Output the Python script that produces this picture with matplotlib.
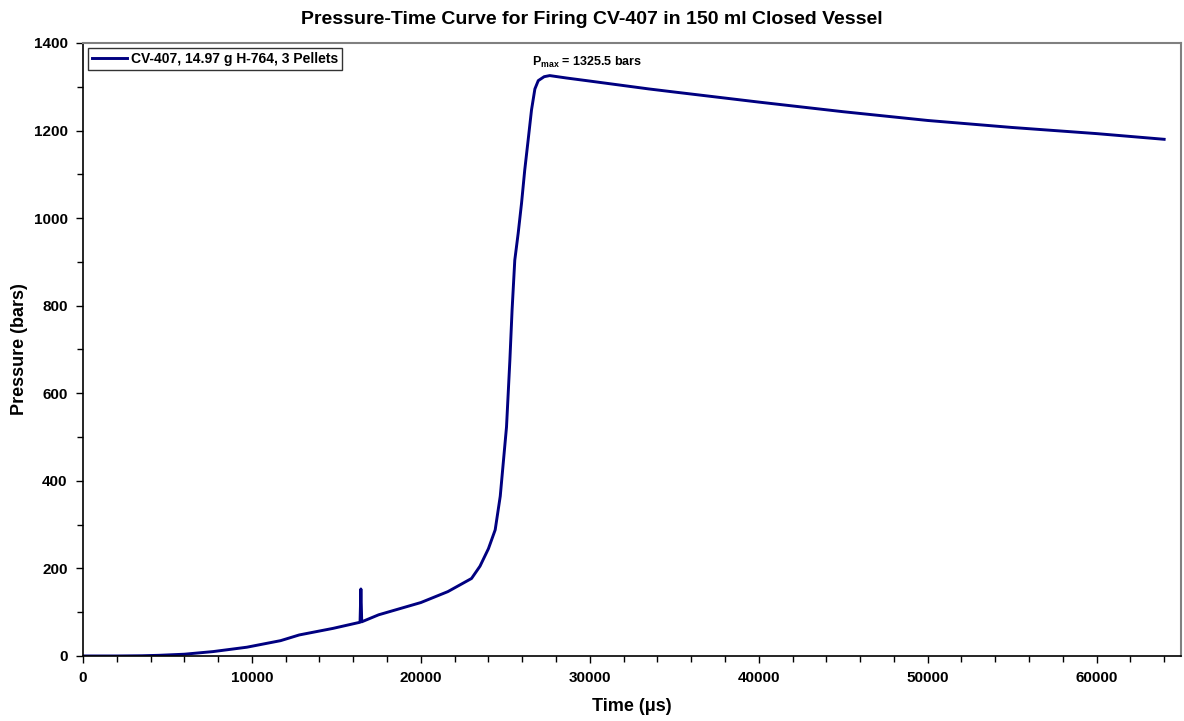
import matplotlib
matplotlib.use('Agg')
import matplotlib.pyplot as plt
from matplotlib.ticker import MultipleLocator

plt.rcParams['font.family'] = ['Liberation Sans', 'DejaVu Sans']
plt.rcParams['font.weight'] = 'bold'
plt.rcParams['mathtext.fontset'] = 'custom'
plt.rcParams['mathtext.rm'] = 'Liberation Sans:bold'
plt.rcParams['mathtext.bf'] = 'Liberation Sans:bold'

# time (us) and pressure (bars)
time_us = [0, 2000, 3500, 4500, 6000, 7700, 9700, 11700, 12800, 14800,
           16400, 16450, 16500, 17500, 20000, 21600, 23000, 23500, 24000,
           24400, 24700, 25070, 25270, 25400, 25560, 25760, 25960, 26150,
           26350, 26550, 26750, 26950, 27300, 27630, 28620, 30000, 33500,
           35000, 40000, 45000, 50000, 55000, 60000, 64000]
pressure = [0, 0, 0.5, 1.5, 4, 10, 20, 35, 48, 63,
            77, 153, 78, 94, 122, 147, 177, 205, 245,
            288, 365, 523, 676, 790, 904, 965, 1034, 1110,
            1178, 1247, 1295, 1314, 1323, 1325.5, 1320, 1313, 1295,
            1288, 1265, 1243, 1223, 1207, 1193, 1180]
series_label = 'CV-407, 14.97 g H-764, 3 Pellets'
pmax = 1325.5

fig = plt.figure(figsize=(11.84, 7.21), dpi=100)
ax = fig.add_axes([0.0701, 0.0902, 0.9274, 0.8502])

ax.plot(time_us, pressure, color='#000080', lw=2.1, label=series_label)

ax.set_xlim(0, 65000)
ax.set_ylim(0, 1400)
ax.xaxis.set_major_locator(MultipleLocator(10000))
ax.xaxis.set_minor_locator(MultipleLocator(2000))
ax.yaxis.set_major_locator(MultipleLocator(200))
ax.yaxis.set_minor_locator(MultipleLocator(100))
ax.tick_params(which='both', direction='out', color='black', width=1)
ax.tick_params(which='major', length=5, labelsize=11, pad=6)
ax.tick_params(which='minor', length=4)
for lab in ax.get_xticklabels() + ax.get_yticklabels():
    lab.set_fontweight('bold')

for s in ['left', 'bottom']:
    ax.spines[s].set_color('black')
    ax.spines[s].set_linewidth(1.2)
for s in ['top', 'right']:
    ax.spines[s].set_color('#808080')
    ax.spines[s].set_linewidth(1.5)

ax.set_xlabel('Time (\u03bcs)', fontsize=13, fontweight='bold')
ax.xaxis.set_label_coords(0.5, -0.069)
ax.set_ylabel('Pressure (bars)', fontsize=13, fontweight='bold')
ax.yaxis.set_label_coords(-0.050, 0.5)
fig.suptitle('Pressure-Time Curve for Firing CV-407 in 150 ml Closed Vessel',
             fontsize=14, fontweight='bold', x=0.5, y=0.985)

ax.text(26600, 1356, r'P$_{\mathrm{max}}$ = ' + '%.1f bars' % pmax,
        fontsize=9, fontweight='bold', ha='left', va='center')

leg = ax.legend(loc='upper left', fontsize=10, frameon=True, fancybox=False,
                borderpad=0.3, handlelength=2.5, handletextpad=0.3,
                borderaxespad=0.35)
leg.get_frame().set_edgecolor('black')
leg.get_frame().set_linewidth(1.0)
for t in leg.get_texts():
    t.set_fontweight('bold')

fig.savefig('out.png', dpi=100)
